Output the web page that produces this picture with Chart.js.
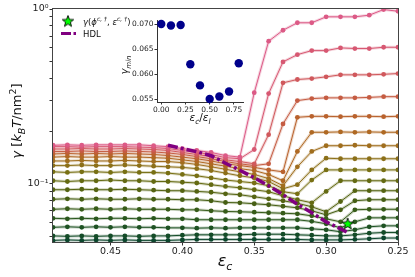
<!DOCTYPE html>
<html>
<head>
<meta charset="utf-8">
<script src="https://cdn.jsdelivr.net/npm/chart.js@4.4.1/dist/chart.umd.min.js"></script>
<style>
  html, body { margin: 0; padding: 0; background: #fff; }
  #wrap { position: relative; width: 415px; height: 277px; }
  #main { position: absolute; left: 0; top: 0; }
  #inset { position: absolute; left: 110px; top: 12px; }
</style>
</head>
<body>
<div id="wrap">
  <canvas id="main" width="415" height="277"></canvas>
  <canvas id="inset" width="140" height="115"></canvas>
</div>
<script>
// x values (epsilon_c), shared by all curves
const epsC = [0.49, 0.48, 0.47, 0.46, 0.45, 0.44, 0.43, 0.42, 0.41, 0.40, 0.39, 0.38, 0.37,
              0.36, 0.35, 0.34, 0.33, 0.32, 0.31, 0.30, 0.29, 0.28, 0.27, 0.26, 0.25];

// gamma curves, top (pink) to bottom (dark green)
const gamma0 = [0.166,0.167,0.166,0.167,0.167,0.167,0.167,0.165,0.163,0.159,0.155,0.151,0.145,0.142,0.332,0.654,0.756,0.834,0.834,0.902,0.902,0.902,0.922,0.993,0.971];
const gamma1 = [0.163,0.163,0.162,0.163,0.163,0.163,0.162,0.161,0.159,0.155,0.151,0.147,0.141,0.139,0.157,0.328,0.498,0.548,0.578,0.578,0.599,0.594,0.594,0.604,0.604];
const gamma2 = [0.158,0.158,0.159,0.158,0.158,0.159,0.158,0.157,0.155,0.151,0.147,0.143,0.137,0.134,0.130,0.191,0.378,0.395,0.400,0.409,0.420,0.420,0.420,0.423,0.427];
const gamma3 = [0.153,0.153,0.154,0.153,0.153,0.154,0.153,0.152,0.150,0.147,0.143,0.139,0.134,0.130,0.127,0.130,0.220,0.299,0.307,0.310,0.310,0.310,0.312,0.315,0.315];
const gamma4 = [0.148,0.149,0.148,0.149,0.148,0.149,0.148,0.147,0.145,0.142,0.139,0.135,0.130,0.127,0.124,0.120,0.117,0.240,0.243,0.243,0.242,0.243,0.243,0.242,0.243];
const gamma5 = [0.142,0.143,0.142,0.142,0.143,0.142,0.142,0.141,0.140,0.137,0.134,0.130,0.126,0.122,0.119,0.113,0.104,0.153,0.197,0.197,0.198,0.197,0.198,0.197,0.197];
const gamma6 = [0.135,0.135,0.136,0.135,0.135,0.136,0.135,0.134,0.134,0.132,0.129,0.125,0.121,0.117,0.113,0.107,0.0974,0.125,0.153,0.165,0.165,0.166,0.165,0.165,0.165];
const gamma7 = [0.127,0.127,0.128,0.127,0.127,0.128,0.127,0.126,0.125,0.124,0.122,0.119,0.115,0.111,0.108,0.103,0.0936,0.0987,0.120,0.140,0.139,0.139,0.139,0.139,0.139];
const gamma8 = [0.117,0.116,0.117,0.117,0.116,0.117,0.116,0.116,0.115,0.113,0.111,0.108,0.105,0.103,0.101,0.0974,0.0900,0.0876,0.105,0.120,0.120,0.120,0.120,0.120,0.120];
const gamma9 = [0.104,0.103,0.104,0.104,0.105,0.104,0.104,0.103,0.103,0.102,0.101,0.0987,0.0965,0.0948,0.0924,0.0900,0.0853,0.0810,0.0778,0.0904,0.104,0.104,0.104,0.104,0.104];
const gamma10 = [0.0924,0.0924,0.0930,0.0924,0.0924,0.0930,0.0924,0.0918,0.0912,0.0912,0.0904,0.0894,0.0876,0.0865,0.0842,0.0820,0.0799,0.0773,0.0738,0.0691,0.0791,0.0912,0.0912,0.0912,0.0912];
const gamma11 = [0.0815,0.0820,0.0815,0.0820,0.0815,0.0815,0.0820,0.0815,0.0815,0.0810,0.0810,0.0799,0.0781,0.0778,0.0768,0.0758,0.0743,0.0728,0.0700,0.0664,0.0709,0.0799,0.0810,0.0810,0.0810];
const gamma12 = [0.0714,0.0719,0.0714,0.0719,0.0714,0.0719,0.0714,0.0714,0.0714,0.0709,0.0709,0.0700,0.0694,0.0691,0.0687,0.0682,0.0678,0.0673,0.0655,0.0630,0.0605,0.0709,0.0714,0.0714,0.0714];
const gamma13 = [0.0634,0.0630,0.0634,0.0630,0.0634,0.0634,0.0630,0.0634,0.0630,0.0630,0.0622,0.0622,0.0622,0.0622,0.0622,0.0622,0.0622,0.0622,0.0609,0.0590,0.0559,0.0605,0.0638,0.0638,0.0638];
const gamma14 = [0.0563,0.0567,0.0563,0.0567,0.0563,0.0567,0.0563,0.0563,0.0559,0.0559,0.0557,0.0559,0.0557,0.0559,0.0559,0.0559,0.0559,0.0559,0.0552,0.0545,0.0531,0.0545,0.0567,0.0574,0.0574];
const gamma15 = [0.0503,0.0500,0.0503,0.0500,0.0503,0.0503,0.0500,0.0503,0.0503,0.0507,0.0510,0.0510,0.0510,0.0510,0.0514,0.0514,0.0514,0.0510,0.0507,0.0503,0.0503,0.0510,0.0521,0.0526,0.0526];
const gamma16 = [0.0474,0.0477,0.0474,0.0477,0.0474,0.0477,0.0474,0.0474,0.0474,0.0477,0.0480,0.0480,0.0480,0.0480,0.0480,0.0480,0.0480,0.0480,0.0477,0.0477,0.0477,0.0480,0.0484,0.0489,0.0489];

// HDL line
const hdlEps = [0.41, 0.40, 0.39, 0.38, 0.37, 0.36, 0.35, 0.34, 0.33, 0.32, 0.31, 0.30, 0.29, 0.285];
const hdlGamma = [0.166, 0.159, 0.1525, 0.1447, 0.131, 0.1195, 0.1082, 0.0974, 0.0865, 0.0763, 0.0682, 0.0605, 0.0552, 0.0527];

// star marker
const starEps = [0.285];
const starGamma = [0.0588];

// inset
const ratioEps = [0.0, 0.1, 0.2, 0.3, 0.4, 0.5, 0.6, 0.7, 0.8];
const gammaMin = [0.0700, 0.0697, 0.0698, 0.0620, 0.0578, 0.0551, 0.0556, 0.0566, 0.0622];

// axis ticks
const xTicks = [0.45, 0.40, 0.35, 0.30, 0.25];
const yTicks = [0.05, 0.06, 0.07, 0.08, 0.09, 0.1, 0.2, 0.3, 0.4, 0.5, 0.6, 0.7, 0.8, 0.9, 1];
const insetXTicks = [0, 0.25, 0.5, 0.75];
const insetYTicks = [0.055, 0.060, 0.065, 0.070];

const allGamma = [gamma0, gamma1, gamma2, gamma3, gamma4, gamma5, gamma6, gamma7, gamma8,
                  gamma9, gamma10, gamma11, gamma12, gamma13, gamma14, gamma15, gamma16];

const seriesColors = ['#dc5a86', '#d75872', '#d0585c', '#c55c42', '#b9622d', '#af6923', '#a06e1e',
                      '#8c7019', '#787014', '#646a12', '#556412', '#465f14', '#375c19', '#2a581e',
                      '#1e5223', '#144c28', '#0c462d'];

const FONT = '"DejaVu Sans", sans-serif';

// filled green star used as marker and in legend
function makeStar(r) {
  const c = document.createElement('canvas');
  const s = Math.ceil(r * 2 + 4);
  c.width = s; c.height = s;
  const g = c.getContext('2d');
  g.beginPath();
  for (let i = 0; i < 10; i++) {
    const rad = i % 2 === 0 ? r : r * 0.42;
    const a = -Math.PI / 2 + i * Math.PI / 5;
    g.lineTo(s / 2 + rad * Math.cos(a), s / 2 + rad * Math.sin(a));
  }
  g.closePath();
  g.fillStyle = '#00ff00';
  g.fill();
  g.lineWidth = 0.9;
  g.strokeStyle = '#000';
  g.stroke();
  return c;
}
const starImg = makeStar(6);

// text made of parts: [text, size, italic, dy]
function drawRich(ctx, parts, x, y, center) {
  let w = 0;
  const widths = parts.map(p => {
    ctx.font = (p[2] ? 'italic ' : '') + p[1] + 'px ' + FONT;
    const m = ctx.measureText(p[0]).width;
    w += m;
    return m;
  });
  let cx = center ? x - w / 2 : x;
  parts.forEach((p, i) => {
    ctx.font = (p[2] ? 'italic ' : '') + p[1] + 'px ' + FONT;
    ctx.fillText(p[0], cx, y + (p[3] || 0));
    cx += widths[i];
  });
}

const datasets = [];
datasets.push({
  data: starEps.map((x, i) => ({ x: x, y: starGamma[i] })),
  pointStyle: starImg, pointRadius: 6, showLine: false, order: 0
});
datasets.push({
  data: hdlEps.map((x, i) => ({ x: x, y: hdlGamma[i] })),
  borderColor: '#800080', borderWidth: 3.5, borderDash: [10, 3, 3, 3],
  pointRadius: 0, order: 1
});
allGamma.forEach((g, k) => {
  const pts = epsC.map((x, i) => ({ x: x, y: g[i] }));
  datasets.push({
    data: pts, borderColor: seriesColors[k], backgroundColor: seriesColors[k],
    borderWidth: 1, pointRadius: 2.4, pointBorderWidth: 0, order: 2 + k
  });
  // faint band behind each curve
  datasets.push({
    data: pts, borderColor: seriesColors[k] + '40', borderWidth: 3,
    pointRadius: 0, order: 50 + k
  });
});

const framePlugin = {
  id: 'frame',
  afterDraw(chart) {
    const { ctx, chartArea: a } = chart;
    ctx.save();
    ctx.strokeStyle = '#444';
    ctx.lineWidth = 1;
    ctx.strokeRect(a.left - 0.5, a.top - 0.5, a.right - a.left + 1, a.bottom - a.top + 1);

    ctx.fillStyle = '#111';
    ctx.textBaseline = 'alphabetic';
    // legend
    ctx.drawImage(starImg, 68 - starImg.width / 2, 21.5 - starImg.height / 2);
    drawRich(ctx, [['γ', 8.5, true], ['(', 8.5, false], ['ϕ', 8.5, true], ['c, †', 6, true, -3.5],
                   [', ', 8.5, false], ['ε', 8.5, true], ['c, †', 6, true, -3.5], [')', 8.5, false]], 83, 24.5, false);
    ctx.strokeStyle = '#800080';
    ctx.lineWidth = 3;
    ctx.setLineDash([10, 2.5, 2.5, 2.5]);
    ctx.beginPath(); ctx.moveTo(61, 33.5); ctx.lineTo(78, 33.5); ctx.stroke();
    ctx.setLineDash([]);
    drawRich(ctx, [['HDL', 8.5, false]], 83, 36.5, false);

    // x title
    drawRich(ctx, [['ε', 16, true], ['c', 11, true, 3.5]], 225, 266, true);
    // y title
    ctx.translate(21, 121);
    ctx.rotate(-Math.PI / 2);
    drawRich(ctx, [['γ', 13, true], [' [', 13, false], ['k', 13, true], ['B', 9.5, true, 3.5], ['T', 13, true],
                   ['/nm', 13, false], ['2', 9.5, false, -5.5], [']', 13, false]], 0, 0, true);
    ctx.restore();
  }
};

new Chart(document.getElementById('main'), {
  type: 'line',
  data: { datasets: datasets },
  options: {
    responsive: false, animation: false, devicePixelRatio: 1,
    layout: { padding: { top: 9, right: 17, left: 0, bottom: 0 } },
    plugins: { legend: { display: false }, tooltip: { enabled: false } },
    elements: { line: { tension: 0 } },
    scales: {
      x: {
        type: 'linear', reverse: true, min: 0.25, max: 0.49,
        afterBuildTicks: s => { s.ticks = xTicks.map(v => ({ value: v })); },
        afterFit: s => { s.height = 35; },
        ticks: { callback: v => v.toFixed(2), font: { family: FONT, size: 9.5 }, color: '#222',
                 padding: 0, maxRotation: 0, autoSkip: false },
        grid: { drawOnChartArea: false, tickLength: 3.5, color: '#333' },
        border: { display: false }
      },
      y: {
        type: 'logarithmic', min: 0.0464, max: 1,
        afterBuildTicks: s => { s.ticks = yTicks.map(v => ({ value: v })); },
        afterFit: s => { s.width = 53; },
        ticks: { callback: v => (v === 1 ? '10⁰' : (v === 0.1 ? '10⁻¹' : '')),
                 font: { family: FONT, size: 9.5 }, color: '#222', padding: 1, autoSkip: false },
        grid: { drawOnChartArea: false, tickLength: 3.5, color: '#333' },
        border: { display: false }
      }
    }
  },
  plugins: [framePlugin]
});

// inset
const insetTitles = {
  id: 'insetTitles',
  afterDraw(chart) {
    const ctx = chart.ctx;
    ctx.save();
    ctx.fillStyle = '#111';
    drawRich(ctx, [['ε', 10.5, true], ['c', 7.5, true, 2.5], ['/', 10.5, false], ['ε', 10.5, true], ['l', 7.5, true, 2.5]], 90, 109, true);
    ctx.translate(18, 53);
    ctx.rotate(-Math.PI / 2);
    drawRich(ctx, [['γ', 10, true], ['min', 7, true, 2.5]], 0, 0, true);
    ctx.restore();
  }
};

new Chart(document.getElementById('inset'), {
  type: 'scatter',
  data: { datasets: [{
    data: ratioEps.map((x, i) => ({ x: x, y: gammaMin[i] })),
    backgroundColor: '#00008b', borderWidth: 0, pointRadius: 4.2, clip: false
  }] },
  options: {
    responsive: false, animation: false, devicePixelRatio: 1,
    layout: { padding: { top: 8, right: 7, left: 0, bottom: 0 } },
    plugins: { legend: { display: false }, tooltip: { enabled: false } },
    scales: {
      x: {
        type: 'linear', min: -0.044, max: 0.844,
        afterBuildTicks: s => { s.ticks = insetXTicks.map(v => ({ value: v })); },
        afterFit: s => { s.height = 25; },
        ticks: { callback: v => v.toFixed(2), font: { family: FONT, size: 7.5 }, color: '#222',
                 padding: 1, maxRotation: 0, autoSkip: false },
        grid: { drawOnChartArea: false, tickLength: 2.5, color: '#333' },
        border: { display: true, color: '#333', width: 1 }
      },
      y: {
        type: 'linear', min: 0.0545, max: 0.0708,
        afterBuildTicks: s => { s.ticks = insetYTicks.map(v => ({ value: v })); },
        afterFit: s => { s.width = 47; },
        ticks: { callback: v => v.toFixed(3), font: { family: FONT, size: 7.5 }, color: '#222',
                 padding: 1, autoSkip: false },
        grid: { drawOnChartArea: false, tickLength: 2.5, color: '#333' },
        border: { display: true, color: '#333', width: 1 }
      }
    }
  },
  plugins: [insetTitles]
});
</script>
</body>
</html>
